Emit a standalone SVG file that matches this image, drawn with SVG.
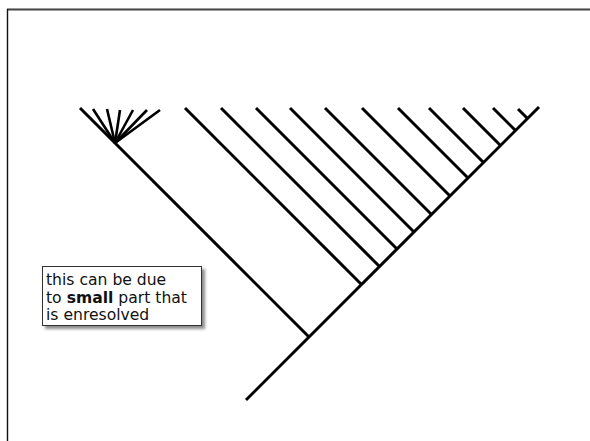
<svg xmlns="http://www.w3.org/2000/svg" width="590" height="441" viewBox="0 0 590 441">
  <style>
    .br { stroke: #000; stroke-width: 3; stroke-linecap: butt; fill: none; }
    .fan { stroke: #000; stroke-width: 2.6; fill: none; }
    .lbl { font-family: "DejaVu Sans", "Noto Sans", sans-serif; font-size: 15.6px; fill: #111; }
  </style>
  <defs>
    <filter id="shadow" x="-10%" y="-10%" width="130%" height="140%">
      <feDropShadow dx="3" dy="3" stdDeviation="1.8" flood-color="#000" flood-opacity="0.45"/>
    </filter>
  </defs>
  <rect x="0" y="0" width="590" height="441" fill="#fff"/>
  <g id="frame">
    <line x1="7" y1="8.5" x2="590" y2="8.5" stroke="#9a9a9a" stroke-width="1"/>
    <line x1="7" y1="9.8" x2="590" y2="9.8" stroke="#444" stroke-width="1.4"/>
    <line x1="7.5" y1="9" x2="7.5" y2="441" stroke="#111" stroke-width="1.4"/>
  </g>
  <g id="connectors">
    <line class="br" x1="246" y1="400" x2="539" y2="107"/>
    <line class="br" x1="80" y1="108" x2="309" y2="337"/>
    <line class="br" x1="185" y1="108" x2="361.5" y2="284.5"/>
    <line class="br" x1="221" y1="108" x2="379.5" y2="266.5"/>
    <line class="br" x1="256" y1="108" x2="397" y2="249"/>
    <line class="br" x1="290" y1="108" x2="414" y2="232"/>
    <line class="br" x1="325" y1="108" x2="431.5" y2="214.5"/>
    <line class="br" x1="362" y1="108" x2="450" y2="196"/>
    <line class="br" x1="398" y1="108" x2="468" y2="178"/>
    <line class="br" x1="429" y1="108" x2="483.5" y2="162.5"/>
    <line class="br" x1="463" y1="108" x2="500.5" y2="145.5"/>
    <line class="br" x1="493" y1="108" x2="515.5" y2="130.5"/>
    <line class="br" x1="518" y1="109" x2="528" y2="119"/>
    <line class="fan" x1="93" y1="109" x2="115" y2="143"/>
    <line class="fan" x1="107" y1="109" x2="115" y2="143"/>
    <line class="fan" x1="120" y1="110" x2="115" y2="143"/>
    <line class="fan" x1="133" y1="110" x2="115" y2="143"/>
    <line class="fan" x1="147" y1="110" x2="115" y2="143"/>
    <line class="fan" x1="160" y1="110" x2="115" y2="143"/>
  </g>
  <g id="note">
    <rect x="42.5" y="266.5" width="159" height="59" fill="#fff" stroke="#333" stroke-width="1" filter="url(#shadow)"/>
    <text class="lbl" x="46" y="285">this can be due</text>
    <text class="lbl" x="46" y="302.5">to <tspan font-weight="bold">small</tspan> part that</text>
    <text class="lbl" x="46" y="320">is enresolved</text>
  </g>
</svg>
